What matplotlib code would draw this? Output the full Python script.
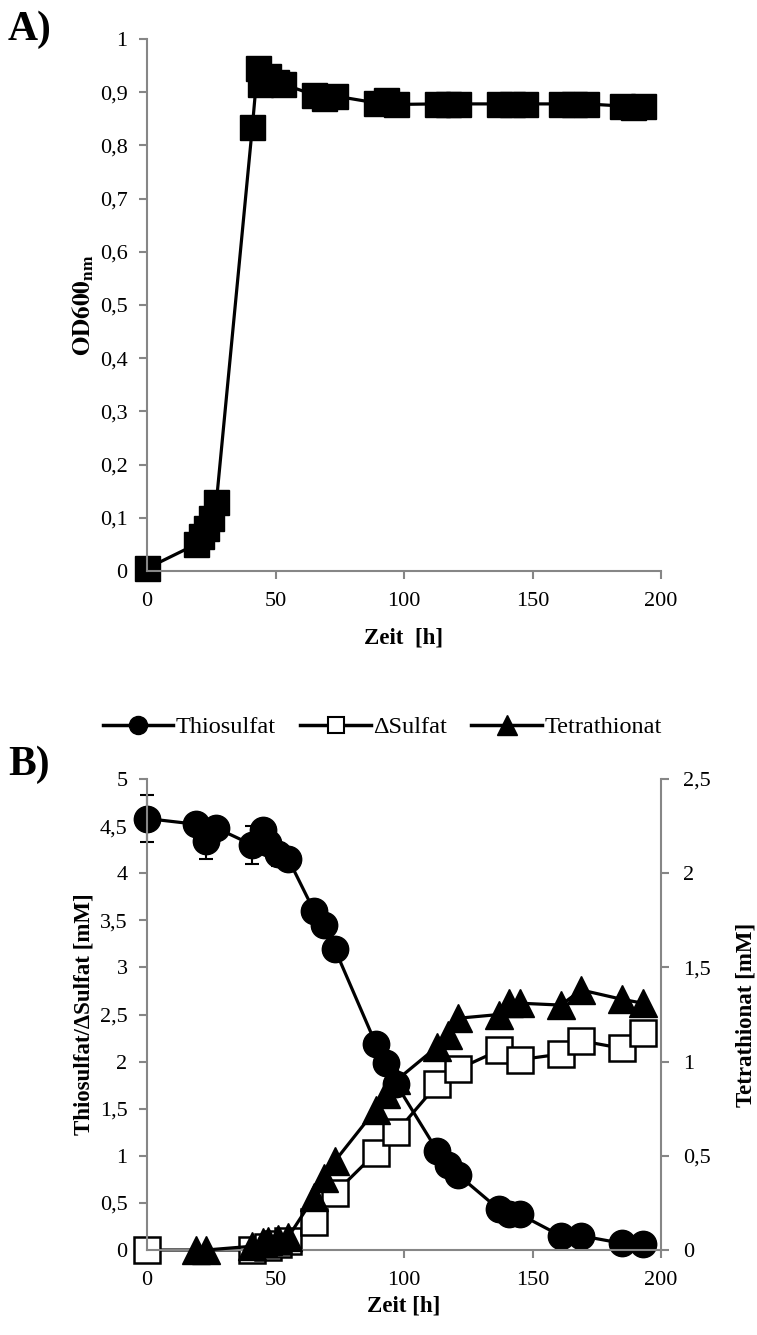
import numpy as np
import matplotlib.pyplot as plt
from matplotlib.ticker import FuncFormatter, MultipleLocator
from matplotlib.lines import Line2D

plt.rcParams['font.family'] = ['Liberation Serif', 'DejaVu Serif']
plt.rcParams['mathtext.fontset'] = 'stix'

# ---- panel A: growth ----
t_a = [0, 19, 21, 23, 25, 27, 41, 43, 44, 47, 50, 53, 65, 69, 73, 89, 93, 97,
       113, 117, 121, 137, 142, 147, 161, 166, 171, 185, 189, 193]
od = [0.005, 0.05, 0.065, 0.08, 0.1, 0.13, 0.835, 0.945, 0.915, 0.93, 0.92, 0.915,
      0.895, 0.89, 0.893, 0.88, 0.885, 0.877, 0.878, 0.878, 0.878, 0.878, 0.878, 0.878,
      0.878, 0.878, 0.878, 0.874, 0.872, 0.874]

# ---- panel B: sulfur species ----
t_thio = [0, 19, 23, 27, 41, 45, 47, 51, 55, 65, 69, 73, 89, 93, 97,
          113, 117, 121, 137, 141, 145, 161, 169, 185, 193]
thio = [4.58, 4.52, 4.34, 4.48, 4.30, 4.46, 4.32, 4.2, 4.15, 3.6, 3.45, 3.2, 2.19, 1.99, 1.76,
        1.05, 0.9, 0.8, 0.43, 0.38, 0.38, 0.15, 0.15, 0.07, 0.06]
thio_err = [0.245, 0, 0.19, 0, 0.2, 0.1, 0, 0.12, 0, 0, 0, 0, 0, 0, 0,
            0, 0, 0, 0, 0, 0, 0, 0, 0, 0]

t_sulf = [0, 41, 47, 51, 55, 65, 73, 89, 97, 113, 121, 137, 145, 161, 169, 185, 193]
sulf = [0, 0.0, 0.03, 0.06, 0.1, 0.3, 0.6, 1.03, 1.25, 1.76, 1.92, 2.12, 2.02, 2.08, 2.22, 2.14, 2.30]

t_tetra = [19, 23, 41, 45, 47, 51, 55, 65, 69, 73, 89, 93, 97,
           113, 117, 121, 137, 141, 145, 161, 169, 185, 193]
tetra = [0.0, 0.0, 0.02, 0.04, 0.05, 0.06, 0.07, 0.28, 0.38, 0.47, 0.745, 0.83, 0.9,
         1.08, 1.14, 1.23, 1.25, 1.31, 1.31, 1.30, 1.38, 1.33, 1.31]

grey = '#868686'
W, H = 757, 1335
fs = 16


def comma(v, pos):
    s = f'{v:.1f}'.rstrip('0').rstrip('.')
    return s.replace('.', ',')


def style(ax):
    for s in ['top', 'right']:
        ax.spines[s].set_visible(False)
    for s in ['left', 'bottom']:
        ax.spines[s].set_color(grey)
        ax.spines[s].set_linewidth(1.5)
    ax.tick_params(colors=grey, labelcolor='black', width=1.5, length=6,
                   labelsize=fs, direction='out')
    ax.tick_params(axis='x', pad=9)
    ax.tick_params(axis='y', pad=8)
    ax.set_xlim(0, 200)
    ax.xaxis.set_major_locator(MultipleLocator(50))
    ax.yaxis.set_major_formatter(FuncFormatter(comma))


fig = plt.figure(figsize=(W / 100, H / 100), dpi=100)

ax_a = fig.add_axes([147 / W, 1 - 571 / H, 514 / W, 532 / H])
style(ax_a)
ax_a.plot(t_a, od, color='black', lw=2.3, marker='s', ms=18, clip_on=False)
ax_a.set_ylim(0, 1)
ax_a.yaxis.set_major_locator(MultipleLocator(0.1))
ax_a.set_xlabel('Zeit  [h]', fontsize=fs + 0.5, fontweight='bold', labelpad=12)
ax_a.set_ylabel(r'$\mathbf{OD600_{nm}}$', fontsize=18, labelpad=3)
fig.text(8 / W, 1 - 30 / H, 'A)', fontsize=30, fontweight='bold', va='center')

ax_b = fig.add_axes([147 / W, 1 - 1250 / H, 514 / W, 471 / H])
style(ax_b)
ax_b.errorbar(t_thio, thio, yerr=thio_err, color='black', lw=2.3, marker='o', ms=19,
              capsize=5, elinewidth=1.5, capthick=1.5, clip_on=False)
ax_b.plot(t_sulf, sulf, color='black', lw=2.3, marker='s', ms=19, mfc='white',
          mec='black', mew=1.8, clip_on=False)
ax_b.set_ylim(0, 5)
ax_b.yaxis.set_major_locator(MultipleLocator(0.5))
ax_b.set_xlabel('Zeit [h]', fontsize=fs + 0.5, fontweight='bold', labelpad=4)
ax_b.set_ylabel('Thiosulfat/ΔSulfat [mM]', fontsize=fs + 0.5, fontweight='bold', labelpad=4)

ax_r = ax_b.twinx()
ax_r.plot(t_tetra, tetra, color='black', lw=2.3, marker='^', ms=20, clip_on=False)
ax_r.set_ylim(0, 2.5)
ax_r.yaxis.set_major_locator(MultipleLocator(0.5))
ax_r.yaxis.set_major_formatter(FuncFormatter(comma))
for s in ['top', 'left', 'bottom']:
    ax_r.spines[s].set_visible(False)
ax_r.spines['right'].set_color(grey)
ax_r.spines['right'].set_linewidth(1.5)
ax_r.tick_params(colors=grey, labelcolor='black', width=1.5, length=6, labelsize=fs, pad=10)
ax_r.set_ylabel('Tetrathionat [mM]', fontsize=fs + 0.5, fontweight='bold', rotation=90, labelpad=18)
fig.text(8 / W, 1 - 765 / H, 'B)', fontsize=30, fontweight='bold', va='center')

handles = [
    Line2D([], [], color='black', lw=2.5, marker='o', ms=13),
    Line2D([], [], color='black', lw=2.5, marker='s', ms=12, mfc='white', mew=1.5),
    Line2D([], [], color='black', lw=2.5, marker='^', ms=14),
]
labels = ['Thiosulfat', 'ΔSulfat', 'Tetrathionat']
fig.legend(handles, labels, loc='center', bbox_to_anchor=(0.505, 1 - 727 / H), ncol=3,
           frameon=False, fontsize=fs + 1.5, handlelength=2.9,
           handletextpad=0.1, columnspacing=1.0)

fig.savefig('out.png', dpi=100)
